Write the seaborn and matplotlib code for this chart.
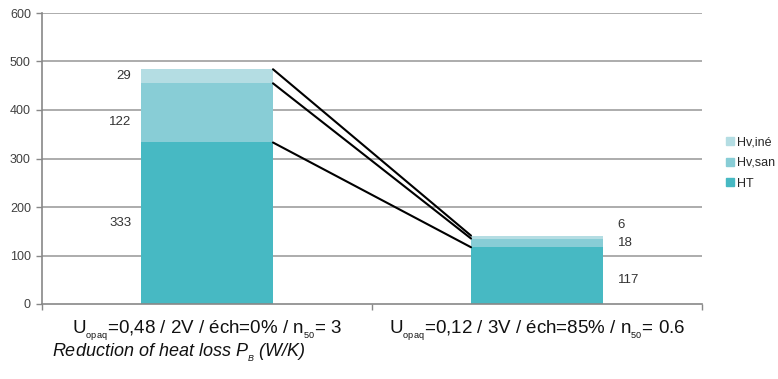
import numpy as np
import pandas as pd
import matplotlib
matplotlib.use("Agg")
import matplotlib.pyplot as plt
import seaborn as sns

# Heat-loss components (W/K) for the two building variants
categories = [
    r"U$_{_{\mathrm{opaq}}}$=0,48 / 2V / éch=0% / n$_{_{\mathrm{50}}}$= 3",
    r"U$_{_{\mathrm{opaq}}}$=0,12 / 3V / éch=85% / n$_{_{\mathrm{50}}}$= 0.6",
]
series_names = ["HT", "Hv,san", "Hv,iné"]
ht = [333, 117]
hv_sans = [122, 18]
hv_ine = [29, 6]
colors = ["#47B9C3", "#88CDD6", "#B4DDE3"]
yticks = [0, 100, 200, 300, 400, 500, 600]

sns.set_theme(style="white")
plt.rcParams["font.family"] = ["Liberation Sans", "DejaVu Sans"]
plt.rcParams["mathtext.fontset"] = "custom"
plt.rcParams["mathtext.rm"] = "Liberation Sans"
plt.rcParams["mathtext.it"] = "Liberation Sans:italic"

stack = np.array([ht, hv_sans, hv_ine])
cum = np.cumsum(stack, axis=0)

fig = plt.figure(figsize=(7.78, 3.79), dpi=100)
ax = fig.add_axes([42 / 778, 75 / 379, 660 / 778, 291 / 379])

grid_c = "#A6A6A6"
for y in yticks[1:]:
    ax.axhline(y, color=grid_c, lw=1.3, zorder=0)

# Stacked bars: draw cumulative totals from top layer down
bar_w = 0.4
for i in range(len(series_names) - 1, -1, -1):
    df = pd.DataFrame({"cat": [0, 1], "val": cum[i]})
    sns.barplot(data=df, x="cat", y="val", color=colors[i], width=bar_w,
                saturation=1, ax=ax, zorder=2, native_scale=True,
                label=series_names[i], errorbar=None,
                edgecolor="none", linewidth=0)

# Series lines joining the segment tops of both bars
for i in range(len(series_names)):
    ax.plot([bar_w / 2, 1 - bar_w / 2], [cum[i][0], cum[i][1]],
            color="black", lw=1.5, zorder=3)

# Value labels: left of first bar, right of second bar
txt_c = "#333333"
left_frac = [0.5, 0.35, 0.55]
right_frac = [0.42, 0.5, 4.6]
for i in range(len(series_names)):
    lo0 = cum[i][0] - stack[i][0]
    ax.text(-bar_w / 2 - 0.03, lo0 + stack[i][0] * left_frac[i], str(stack[i][0]),
            ha="right", va="center", fontsize=9.5, color=txt_c)
    lo1 = cum[i][1] - stack[i][1]
    ax.text(1 + bar_w / 2 + 0.045, lo1 + stack[i][1] * right_frac[i], str(stack[i][1]),
            ha="left", va="center", fontsize=9.5, color=txt_c)

ax.set_xlim(-0.5, 1.5)
ax.set_ylim(0, 600)
ax.set_yticks(yticks)
ax.set_yticklabels([str(v) for v in yticks], fontsize=9, color="#404040")
ax.set_xticks([0, 1])
ax.set_xticklabels(categories, fontsize=13.5, color="#111111")
ax.tick_params(axis="x", length=0, pad=11)
ax.tick_params(axis="y", length=4, width=1, color="#888888", pad=4, left=True)
ax.set_xticks([-0.5, 0.5, 1.5], minor=True)
ax.tick_params(axis="x", which="minor", length=4, width=1, color="#888888", bottom=True)
ax.set_xlabel("")
ax.set_ylabel("")

for side in ["top", "right"]:
    ax.spines[side].set_visible(False)
for side in ["left", "bottom"]:
    ax.spines[side].set_color("#888888")
    ax.spines[side].set_linewidth(1.2)

handles = [plt.Rectangle((0, 0), 1, 1, color=colors[i]) for i in range(len(series_names) - 1, -1, -1)]
labels = ["Hv,iné", "Hv,san", "HT"]
ax.legend(handles, labels, loc="center left", bbox_to_anchor=(726 / 778, 1 - 163 / 379),
          bbox_transform=fig.transFigure, frameon=False, fontsize=9,
          handlelength=0.6, handleheight=0.6, handletextpad=0.25, labelspacing=0.7,
          borderaxespad=0, borderpad=0)

fig.text(52 / 778, 1 - 353 / 379, r"Reduction of heat loss $P_{_{B}}$ (W/K)",
         fontsize=13, style="italic", ha="left", va="center", color="#111111")

fig.savefig("out.png", dpi=100)
